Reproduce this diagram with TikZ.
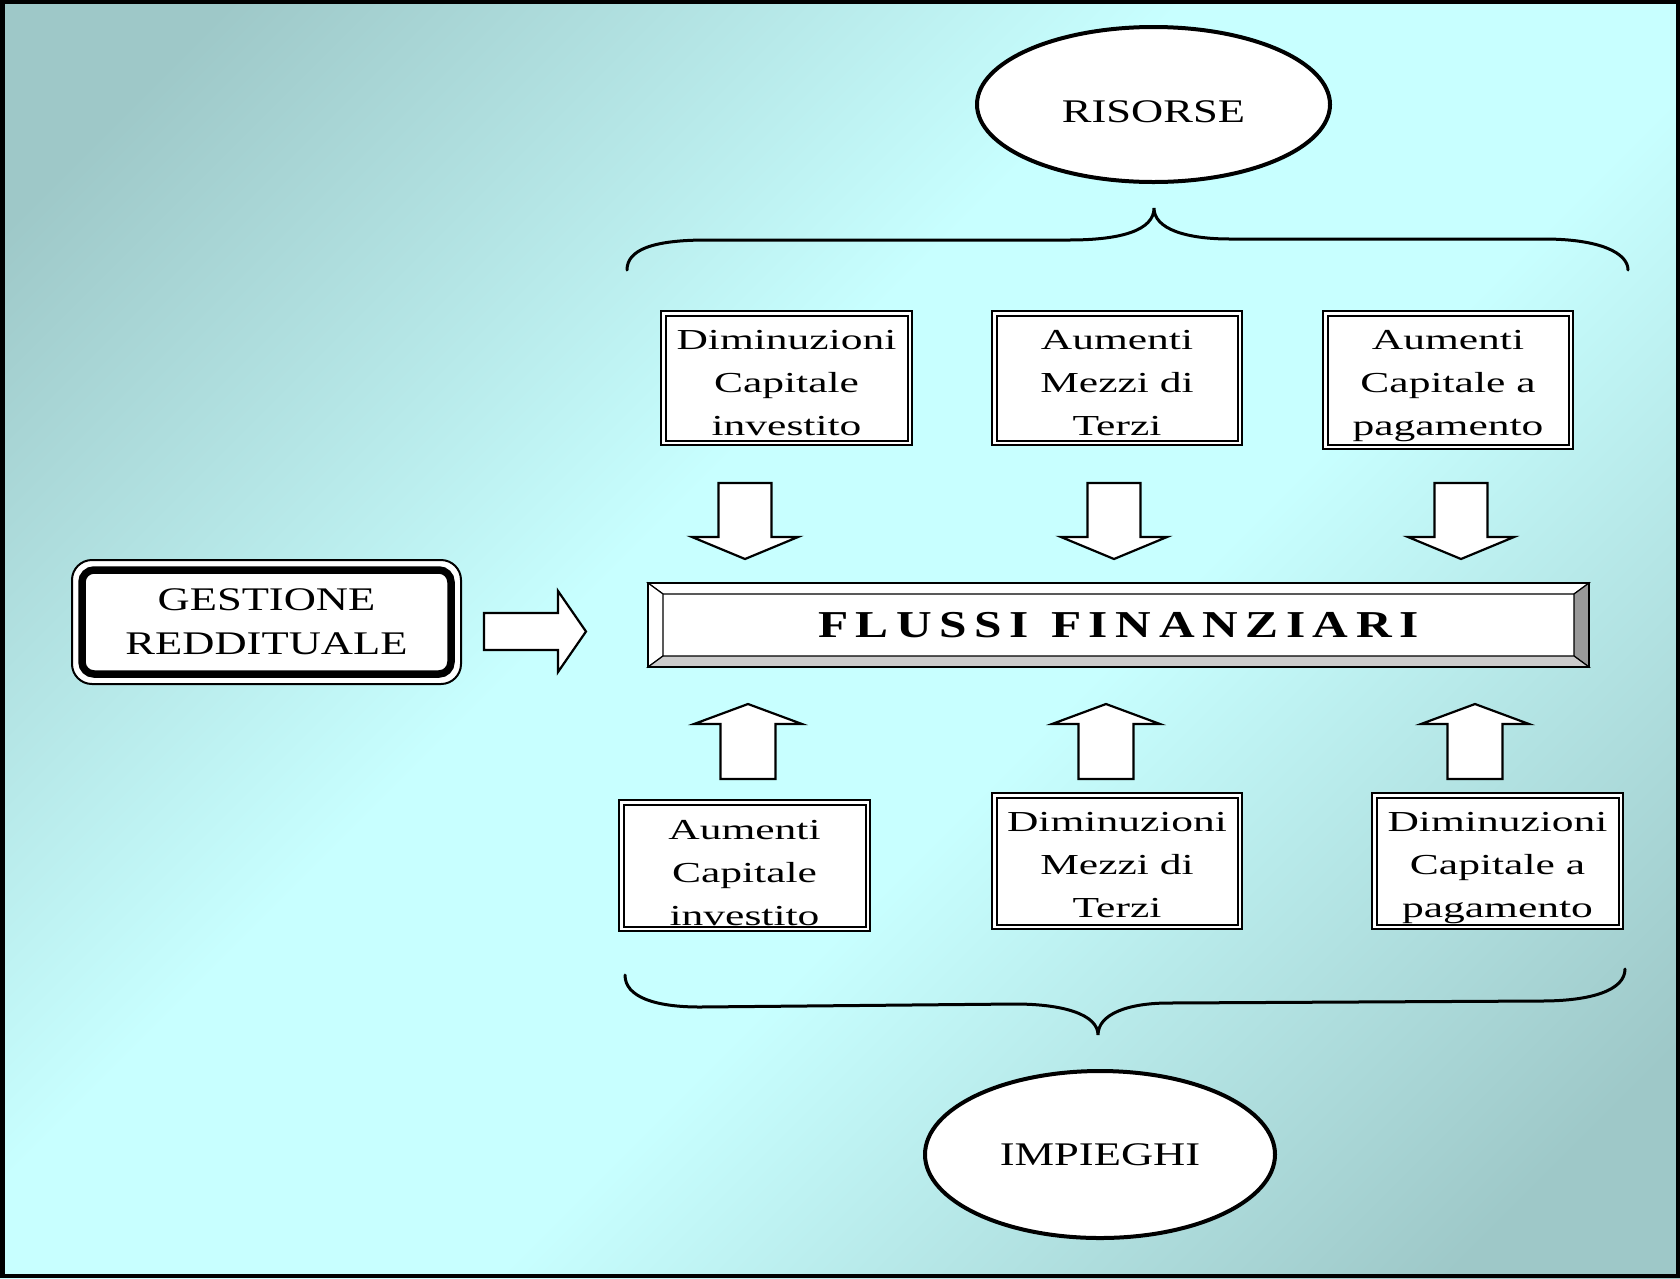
\documentclass[tikz,border=0pt]{standalone}
\usepackage{fontspec}
\usetikzlibrary{shapes.geometric}
\setmainfont{Liberation Serif}
\newfontfamily\capsfont[FakeStretch=1.35]{Liberation Serif}
\newfontfamily\boxfont[FakeStretch=1.5]{Liberation Serif}
\newfontfamily\flowfont[FakeStretch=1.3, LetterSpace=20]{Liberation Serif}
\definecolor{bgdark}{RGB}{158,200,200}
\definecolor{bglight}{RGB}{200,255,255}
\definecolor{bevelright}{RGB}{153,153,153}
\definecolor{bevelbottom}{RGB}{204,204,204}
\pgfdeclareverticalshading{bgfade}{100bp}{color(0bp)=(bgdark); color(20bp)=(bgdark);
  color(43bp)=(bglight); color(57bp)=(bglight); color(80bp)=(bgdark); color(100bp)=(bgdark)}

\tikzset{
  oval/.style={ellipse, draw, line width=4pt, fill=white, inner sep=0pt,
    font=\capsfont\fontsize{33}{40}\selectfont},
  frame/.style={draw, line width=2pt, double=white, double distance=2.5pt,
    fill=white, inner sep=0pt},
  boxtext/.style={align=center, inner sep=0pt,
    font=\boxfont\fontsize{29}{43}\selectfont},
  block/.style={draw, line width=2.2pt, fill=white, line join=miter},
  brace/.style={line width=3pt, line cap=round},
  bevel/.style={draw, line width=1.2pt, line join=miter},
  downblock/.pic={\draw[block] (-26.5,0) -- (26.5,0) -- (26.5,54) -- (53,54)
    -- (0,76) -- (-53,54) -- (-26.5,54) -- cycle;},
  upblock/.pic={\draw[block] (0,0) -- (54,20) -- (27.5,20) -- (27.5,75)
    -- (-27.5,75) -- (-27.5,20) -- (-54,20) -- cycle;},
}

\begin{document}
\begin{tikzpicture}[x=1pt,y=-1pt]
\useasboundingbox (0,0) rectangle (1680,1278);

% background and frame
\shade[shading=bgfade, shading angle=45] (0,0) rectangle (1680,1278);
\draw[line width=4pt] (2,2) rectangle (1678,1276);
\fill (0,0) rectangle (5,1278);

% resources and uses
\node[oval, minimum width=353pt, minimum height=155pt, text height=35pt, text depth=0pt]
  (ris) at (1153.5,104.5) {RISORSE};
\node[oval, minimum width=350pt, minimum height=167pt]
  (imp) at (1100,1154.5) {IMPIEGHI};

% braces
\draw[brace] (627,270) .. controls (627,250) and (652,240) .. (707,240) -- (1069,240)
  .. controls (1122,240) and (1154,230) .. (1154,208)
  .. controls (1154,229) and (1186,239) .. (1230,239) -- (1544,239)
  .. controls (1600,239) and (1628,253) .. (1628,270);
\draw[brace] (625,975) .. controls (625,997) and (655,1007) .. (700,1007) -- (1015,1004)
  .. controls (1062,1004) and (1098,1014) .. (1098,1035)
  .. controls (1098,1014) and (1128,1003) .. (1169,1003) -- (1541,1001)
  .. controls (1592,1001) and (1625,990) .. (1625,969);

% source boxes
\node[frame, minimum width=246.5pt, minimum height=129.5pt] (b1) at (786.5,378) {};
\node[frame, minimum width=245.5pt, minimum height=129.5pt] (b2) at (1117,378) {};
\node[frame, minimum width=245.5pt, minimum height=133.5pt] (b3) at (1448,380) {};
\node[boxtext, yshift=-5.4pt] (t1) at (b1.center) {\strut Diminuzioni\\\strut Capitale\\\strut investito};
\node[boxtext, yshift=-5.4pt] (t2) at (b2.center) {\strut Aumenti\\\strut Mezzi di\\\strut Terzi};
\node[boxtext, yshift=-3.4pt] (t3) at (b3.center) {\strut Aumenti\\\strut Capitale a\\\strut pagamento};

% use boxes
\node[frame, minimum width=246.5pt, minimum height=126.5pt] (b4) at (744.5,865.5) {};
\node[frame, minimum width=245.5pt, minimum height=131.5pt] (b5) at (1117,861) {};
\node[frame, minimum width=246.5pt, minimum height=131.5pt] (b6) at (1497.5,861) {};
\node[boxtext, yshift=-8.4pt] (t4) at (b4.center) {\strut Aumenti\\\strut Capitale\\\strut investito};
\node[boxtext, yshift=-4.4pt] (t5) at (b5.center) {\strut Diminuzioni\\\strut Mezzi di\\\strut Terzi};
\node[boxtext, yshift=-4.4pt] (t6) at (b6.center) {\strut Diminuzioni\\\strut Capitale a\\\strut pagamento};

% central bevelled box
\node[draw, line width=2pt, fill=white, minimum width=939pt, minimum height=82pt,
  inner sep=0pt, text height=25.2pt, text depth=0pt,
  font=\flowfont\bfseries\fontsize{38}{44}\selectfont]
  (ff) at (1118.5,625) {\spaceskip=22pt\relax FLUSSI FINANZIARI};
\coordinate (ffnw) at ([xshift=15pt,yshift=-11pt]ff.north west);
\coordinate (ffne) at ([xshift=-15pt,yshift=-11pt]ff.north east);
\coordinate (ffse) at ([xshift=-15pt,yshift=11pt]ff.south east);
\coordinate (ffsw) at ([xshift=15pt,yshift=11pt]ff.south west);
\draw[bevel, fill=white] (ff.north west) -- (ff.north east) -- (ffne) -- (ffnw) -- cycle;
\draw[bevel, fill=white] (ff.north west) -- (ffnw) -- (ffsw) -- (ff.south west) -- cycle;
\draw[bevel, fill=bevelright] (ff.north east) -- (ff.south east) -- (ffse) -- (ffne) -- cycle;
\draw[bevel, fill=bevelbottom] (ff.south west) -- (ffsw) -- (ffse) -- (ff.south east) -- cycle;
\draw[line width=2pt] (ff.north west) rectangle (ff.south east);

% operating management
\node[draw, line width=2pt, fill=white, rounded corners=20pt, minimum width=389pt,
  minimum height=124pt, align=center, inner sep=0pt,
  font=\capsfont\fontsize{33}{44}\selectfont]
  (gest) at (266.5,622) {GESTIONE\\REDDITUALE};
\draw[line width=7.5pt, rounded corners=12pt]
  ([xshift=11pt,yshift=11pt]gest.south west) rectangle ([xshift=-11pt,yshift=-11pt]gest.north east);

% block arrows
\pic (d1) at (745,483) {downblock};
\pic (d2) at (1114,483) {downblock};
\pic (d3) at (1461,483) {downblock};
\pic (u1) at (748,704) {upblock};
\pic (u2) at (1106,704) {upblock};
\pic (u3) at (1475,704) {upblock};
\draw[block] (484,613) -- (558,613) -- (558,591) -- (586,631.5) -- (558,672)
  -- (558,650) -- (484,650) -- cycle;
\end{tikzpicture}
\end{document}
